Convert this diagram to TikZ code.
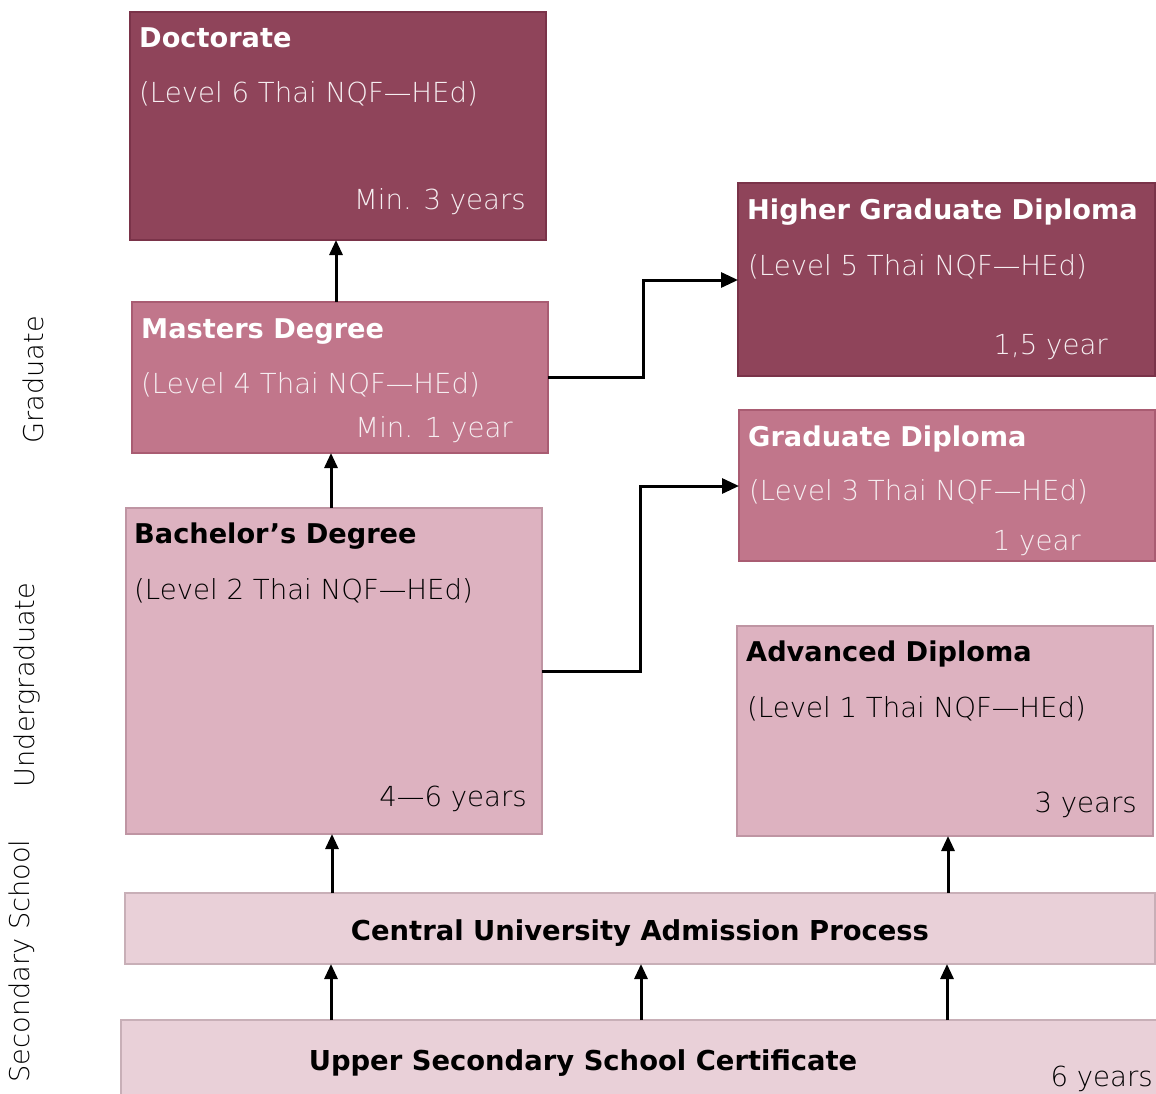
\documentclass[tikz,border=0pt]{standalone}
\usepackage{fontspec}
\setmainfont{DejaVu Sans}
\newfontfamily\thinf{DejaVuSans-ExtraLight.ttf}
\usetikzlibrary{arrows.meta}
\definecolor{cdark}{HTML}{8F445A}
\definecolor{cdarkb}{HTML}{7A3349}
\definecolor{cmid}{HTML}{C1768B}
\definecolor{cmidb}{HTML}{A95C72}
\definecolor{clight}{HTML}{DDB2C0}
\definecolor{clightb}{HTML}{BF95A3}
\definecolor{cpale}{HTML}{E9D0D8}
\definecolor{cpaleb}{HTML}{C8AFB7}
\definecolor{ctxt}{HTML}{F6EEF1}
\tikzset{
  box/.style={rectangle, draw, line width=1.6pt, anchor=north west, inner sep=0pt, outer sep=0pt},
  ttl/.style={anchor=base west, inner sep=0pt, font=\bfseries\fontsize{27.2}{32}\selectfont},
  lvl/.style={anchor=base west, inner sep=0pt, font=\thinf\fontsize{27.6}{32}\selectfont},
  yrs/.style={anchor=base east, inner sep=0pt, font=\thinf\fontsize{27.6}{32}\selectfont},
  side/.style={rotate=90, inner sep=0pt, font=\thinf\fontsize{27.2}{32}\selectfont},
  arr/.style={-{Triangle[length=15pt,width=13pt]}, line width=3pt, black},
  elb/.style={-{Triangle[length=17pt,width=15pt]}, line width=3pt, black},
}
\begin{document}
\begin{tikzpicture}[x=1pt,y=-1pt]
\useasboundingbox (0,0) rectangle (1156,1094);
% boxes
\node[box, fill=cdark, draw=cdarkb, minimum width=416pt, minimum height=228pt] (doc) at (130,12) {};
\node[box, fill=cmid, draw=cmidb, minimum width=416pt, minimum height=151pt] (mas) at (132,302) {};
\node[box, fill=clight, draw=clightb, minimum width=416pt, minimum height=326pt] (bac) at (126,508) {};
\node[box, fill=cdark, draw=cdarkb, minimum width=417pt, minimum height=193pt] (hgd) at (738,183) {};
\node[box, fill=cmid, draw=cmidb, minimum width=416pt, minimum height=151pt] (gd) at (739,410) {};
\node[box, fill=clight, draw=clightb, minimum width=416pt, minimum height=210pt] (adv) at (737,626) {};
\node[box, fill=cpale, draw=cpaleb, minimum width=1030pt, minimum height=71pt] (cua) at (125,893) {};
\node[box, fill=cpale, draw=cpaleb, minimum width=1036pt, minimum height=90pt] (uss) at (121,1020) {};
% texts
\node[ttl, text=white] (t1) at (139,48) {Doctorate};
\node[lvl, text=ctxt] (l1) at (139,103) {(Level 6 Thai NQF—HEd)};
\node[yrs, text=ctxt] (y1) at (526,210) {Min. 3 years};
\node[ttl, text=white] (t2) at (141,338) {Masters Degree};
\node[lvl, text=ctxt] (l2) at (141,393) {(Level 4 Thai NQF—HEd)};
\node[yrs, text=ctxt] (y2) at (513,437) {Min. 1 year};
\node[ttl, text=black] (t3) at (134,543) {Bachelor’s Degree};
\node[lvl, text=black] (l3) at (134,599) {(Level 2 Thai NQF—HEd)};
\node[yrs, text=black] (y3) at (527,806) {4—6 years};
\node[ttl, text=white] (t4) at (747,219) {Higher Graduate Diploma};
\node[lvl, text=ctxt] (l4) at (748,275) {(Level 5 Thai NQF—HEd)};
\node[yrs, text=ctxt] (y4) at (1108,354) {1,5 year};
\node[ttl, text=white] (t5) at (748,446) {Graduate Diploma};
\node[lvl, text=ctxt] (l5) at (749,500) {(Level 3 Thai NQF—HEd)};
\node[yrs, text=ctxt] (y5) at (1081,550) {1 year};
\node[ttl, text=black] (t6) at (746,661) {Advanced Diploma};
\node[lvl, text=black] (l6) at (747,717) {(Level 1 Thai NQF—HEd)};
\node[yrs, text=black] (y6) at (1137,812) {3 years};
\node[anchor=base, inner sep=0pt, font=\bfseries\fontsize{27.4}{32}\selectfont] (t7) at (640,940) {Central University Admission Process};
\node[anchor=base, inner sep=0pt, font=\bfseries\fontsize{27.4}{32}\selectfont] (t8) at (583,1070) {Upper Secondary School Certificate};
\node[yrs, text=black] (y8) at (1153,1086) {6 years};
% side labels
\node[side] (s1) at (33,380) {Graduate};
\node[side] (s2) at (27,685) {Undergraduate};
\node[side] (s3) at (22,961) {Secondary School};
% arrows
\draw[arr] (mas.north -| 336,0) -- (doc.south -| 336,0);
\draw[arr] (bac.north -| 331,0) -- (mas.south -| 331,0);
\draw[arr] (cua.north -| 332,0) -- (bac.south -| 332,0);
\draw[arr] (cua.north -| 948,0) -- (adv.south -| 948,0);
\draw[arr] (uss.north -| 331,0) -- (cua.south -| 331,0);
\draw[arr] (uss.north -| 641,0) -- (cua.south -| 641,0);
\draw[arr] (uss.north -| 947,0) -- (cua.south -| 947,0);
\draw[elb] (mas.east |- 0,377) -| (643,280) -- (hgd.west |- 0,280);
\draw[elb] (bac.east |- 0,671) -| (640,486) -- (gd.west |- 0,486);
\end{tikzpicture}
\end{document}
